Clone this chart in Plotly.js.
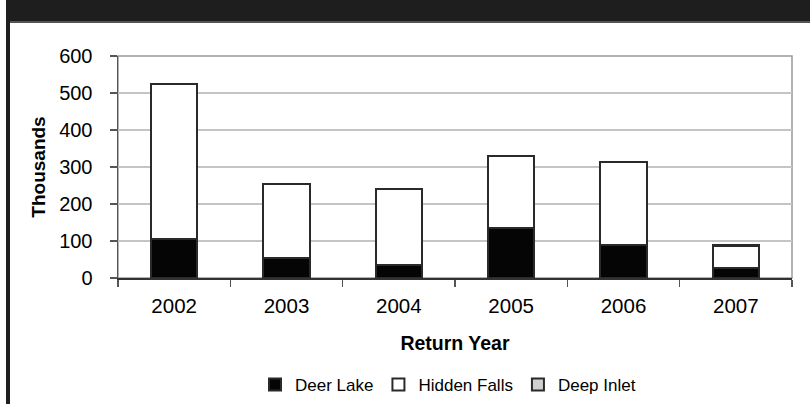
<!DOCTYPE html>
<html>
<head>
<meta charset="utf-8">
<script src="https://cdn.plot.ly/plotly-3.0.1.min.js"></script>
<style>
  html, body { margin: 0; padding: 0; background: #ffffff; }
  #chart { width: 810px; height: 404px; }
</style>
</head>
<body>
<div id="chart"></div>
<script>
// Adult returns (thousands) by return year, stacked by release site
const years = ["2002", "2003", "2004", "2005", "2006", "2007"];
const deerLake = [105, 54, 35, 135, 90, 27];
const hiddenFalls = [419, 200, 205, 195, 223, 60];
const deepInlet = [0, 0, 0, 0, 0, 3];

const FONT = "'Liberation Sans', Arial, sans-serif";
const outline = { color: "#2a2a2a", width: 2 };

const traces = [
  { name: "Deer Lake", x: years, y: deerLake, type: "bar",
    marker: { color: "#050505", line: outline } },
  { name: "Hidden Falls", x: years, y: hiddenFalls, type: "bar",
    marker: { color: "#ffffff", line: outline } },
  { name: "Deep Inlet", x: years, y: deepInlet, type: "bar",
    marker: { color: "#cfcfcf", line: outline } }
];

// plot area spans x 118..792 px, y 56..278 px
const L = 118, R = 792, T = 56, B = 278;
const px = v => (v - L) / (R - L);
const py = v => (B - v) / (B - T);

const layout = {
  width: 810, height: 404,
  margin: { l: L, r: 810 - R, t: T, b: 404 - B, autoexpand: false },
  paper_bgcolor: "#ffffff",
  plot_bgcolor: "#ffffff",
  barmode: "stack",
  bargap: 0.59,
  showlegend: true,
  font: { family: FONT, color: "#000000" },
  xaxis: {
    type: "category", automargin: false,
    showline: true, linecolor: "#333333", linewidth: 1.5,
    ticks: "outside", tickson: "boundaries", ticklen: 7,
    tickcolor: "#555555", tickwidth: 1.5,
    tickfont: { size: 20.5, family: FONT },
    ticklabelstandoff: 9,
    showgrid: false, zeroline: false,
    title: { text: "<b>Return Year</b>", font: { size: 19.5, family: FONT }, standoff: 20 }
  },
  yaxis: {
    range: [0, 600], dtick: 100, tick0: 0, automargin: false,
    showline: true, linecolor: "#555555", linewidth: 1.5,
    ticks: "outside", ticklen: 7, tickcolor: "#555555", tickwidth: 1.5,
    tickfont: { size: 20, family: FONT },
    ticklabelstandoff: 13,
    showgrid: true, gridcolor: "#c4c4c4", gridwidth: 2,
    zeroline: false,
    title: { text: "<b>Thousands</b>", font: { size: 19, family: FONT }, standoff: 8 }
  },
  legend: {
    orientation: "h", x: px(448), xanchor: "center",
    yref: "container", y: 19 / 404, yanchor: "middle",
    font: { size: 17, family: FONT }, itemwidth: 30,
    traceorder: "normal"
  },
  shapes: [
    // plot area frame
    { type: "rect", xref: "paper", yref: "paper", x0: 0, x1: 1, y0: 0, y1: 1,
      line: { color: "#9a9a9a", width: 1.5 }, layer: "below" },
    // dark header band
    { type: "rect", xref: "paper", yref: "paper",
      x0: px(6), x1: px(812), y0: py(-2), y1: py(21),
      fillcolor: "#1e1e1e", line: { width: 0 } },
    { type: "line", xref: "paper", yref: "paper",
      x0: px(6), x1: px(812), y0: py(22), y1: py(22),
      line: { color: "#555555", width: 2 } },
    // left border strip
    { type: "rect", xref: "paper", yref: "paper",
      x0: px(6), x1: px(10), y0: py(406), y1: py(-2),
      fillcolor: "#1e1e1e", line: { width: 0 } }
  ]
};

Plotly.newPlot("chart", traces, layout, { displayModeBar: false, staticPlot: true });
</script>
</body>
</html>
